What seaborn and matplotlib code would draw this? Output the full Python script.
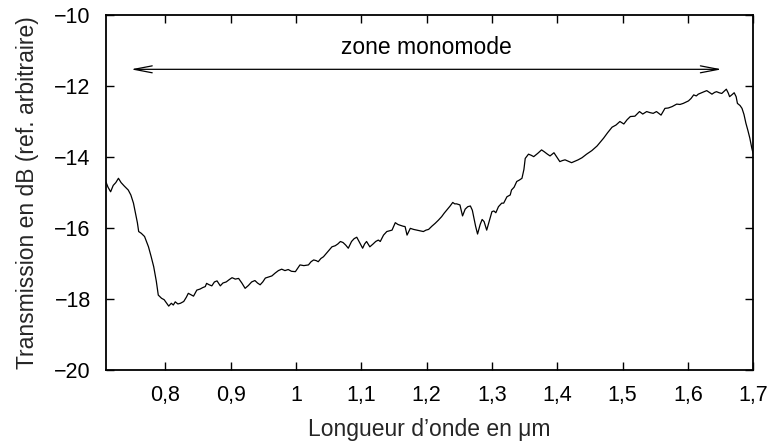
import matplotlib
matplotlib.use("Agg")
import matplotlib.pyplot as plt
import matplotlib.ticker as mticker
import numpy as np
import pandas as pd
import seaborn as sns

# Measured transmission spectrum
wavelength_um = [
    0.709, 0.712, 0.716, 0.720, 0.724, 0.728, 0.732, 0.737, 0.743, 0.747,
    0.751, 0.754, 0.757, 0.759, 0.763, 0.768, 0.774, 0.778, 0.782, 0.786,
    0.789, 0.794, 0.798, 0.802, 0.805, 0.809, 0.812, 0.815, 0.819, 0.823,
    0.828, 0.832, 0.835, 0.839, 0.843, 0.848, 0.853, 0.857, 0.861, 0.863,
    0.867, 0.871, 0.875, 0.879, 0.884, 0.888, 0.893, 0.898, 0.902, 0.907,
    0.912, 0.917, 0.922, 0.927, 0.932, 0.937, 0.941, 0.945, 0.949, 0.953,
    0.958, 0.963, 0.968, 0.973, 0.978, 0.983, 0.988, 0.993, 0.999, 1.003,
    1.006, 1.012, 1.019, 1.023, 1.027, 1.031, 1.034, 1.038, 1.042, 1.048,
    1.055, 1.060, 1.064, 1.068, 1.072, 1.076, 1.080, 1.085, 1.089, 1.093,
    1.097, 1.102, 1.105, 1.108, 1.113, 1.118, 1.122, 1.126, 1.129, 1.134,
    1.139, 1.143, 1.147, 1.152, 1.156, 1.159, 1.164, 1.167, 1.170, 1.175,
    1.180, 1.185, 1.190, 1.195, 1.199, 1.203, 1.208, 1.213, 1.218, 1.223,
    1.227, 1.231, 1.236, 1.240, 1.243, 1.246, 1.251, 1.255, 1.259, 1.263,
    1.267, 1.270, 1.272, 1.275, 1.278, 1.282, 1.285, 1.288, 1.292, 1.296,
    1.300, 1.303, 1.306, 1.310, 1.315, 1.318, 1.323, 1.328, 1.330, 1.334,
    1.338, 1.342, 1.346, 1.349, 1.351, 1.356, 1.360, 1.364, 1.370, 1.376,
    1.380, 1.385, 1.389, 1.395, 1.400, 1.404, 1.408, 1.412, 1.417, 1.422,
    1.427, 1.432, 1.438, 1.445, 1.453, 1.461, 1.466, 1.471, 1.477, 1.484,
    1.490, 1.496, 1.502, 1.507, 1.512, 1.519, 1.526, 1.531, 1.537, 1.542,
    1.547, 1.552, 1.559, 1.565, 1.570, 1.576, 1.583, 1.588, 1.593, 1.601,
    1.605, 1.609, 1.613, 1.616, 1.621, 1.625, 1.629, 1.633, 1.637, 1.641,
    1.644, 1.648, 1.652, 1.656, 1.659, 1.662, 1.664, 1.668, 1.671, 1.674,
    1.676, 1.680, 1.683, 1.686, 1.689, 1.692, 1.695, 1.698, 1.700,
]
transmission_db = [
    -14.71, -14.85, -14.98, -14.80, -14.72, -14.60, -14.72, -14.82, -14.93, -15.07,
    -15.30, -15.58, -15.85, -16.10, -16.15, -16.24, -16.53, -16.80, -17.09, -17.50,
    -17.89, -17.98, -18.02, -18.12, -18.20, -18.12, -18.17, -18.08, -18.14, -18.12,
    -18.07, -17.95, -17.84, -17.88, -17.92, -17.75, -17.72, -17.68, -17.65, -17.56,
    -17.60, -17.63, -17.52, -17.49, -17.63, -17.55, -17.52, -17.45, -17.40, -17.44,
    -17.42, -17.55, -17.70, -17.62, -17.52, -17.48, -17.55, -17.60, -17.52, -17.41,
    -17.38, -17.35, -17.27, -17.20, -17.16, -17.20, -17.17, -17.22, -17.23, -17.12,
    -17.04, -17.06, -17.04, -16.95, -16.90, -16.92, -16.95, -16.86, -16.81, -16.68,
    -16.53, -16.50, -16.45, -16.38, -16.41, -16.48, -16.57, -16.38, -16.30, -16.26,
    -16.40, -16.57, -16.45, -16.38, -16.53, -16.45, -16.38, -16.34, -16.38, -16.20,
    -16.10, -16.08, -16.06, -15.85, -15.90, -15.92, -15.95, -15.96, -16.20, -16.01,
    -16.04, -16.06, -16.08, -16.10, -16.06, -16.04, -15.95, -15.87, -15.78, -15.68,
    -15.58, -15.49, -15.38, -15.28, -15.32, -15.32, -15.35, -15.66, -15.47, -15.40,
    -15.38, -15.50, -15.68, -15.95, -16.17, -15.90, -15.76, -15.82, -16.06, -15.80,
    -15.54, -15.52, -15.57, -15.40, -15.30, -15.30, -15.12, -15.07, -14.93, -14.85,
    -14.69, -14.65, -14.60, -14.35, -14.04, -13.92, -13.95, -13.99, -13.90, -13.80,
    -13.85, -13.92, -13.97, -13.88, -14.02, -14.13, -14.10, -14.08, -14.12, -14.16,
    -14.12, -14.08, -14.02, -13.92, -13.82, -13.69, -13.58, -13.47, -13.32, -13.16,
    -13.10, -13.00, -13.07, -12.95, -12.86, -12.85, -12.72, -12.79, -12.72, -12.75,
    -12.77, -12.72, -12.82, -12.63, -12.62, -12.58, -12.51, -12.52, -12.49, -12.42,
    -12.35, -12.25, -12.28, -12.23, -12.19, -12.16, -12.13, -12.18, -12.23, -12.18,
    -12.16, -12.19, -12.21, -12.14, -12.09, -12.20, -12.30, -12.24, -12.19, -12.30,
    -12.49, -12.55, -12.63, -12.80, -13.05, -13.25, -13.47, -13.75, -13.90,
]

x_ticks = [0.8, 0.9, 1.0, 1.1, 1.2, 1.3, 1.4, 1.5, 1.6, 1.7]
y_ticks = [-20, -18, -16, -14, -12, -10]

# Single-mode band marked by a double arrow
band_start, band_end, band_level = 0.747, 1.652, -11.53
band_label = "zone monomode"

sns.set_style("ticks")
plt.rcParams["font.family"] = ["Liberation Sans", "DejaVu Sans"]
plt.rcParams["axes.unicode_minus"] = True

df = pd.DataFrame({"wavelength": wavelength_um, "transmission": transmission_db})

fig = plt.figure(figsize=(7.74, 4.44), dpi=100)
ax = fig.add_axes([0.137, 0.1667, 0.836, 0.7995])

sns.lineplot(data=df, x="wavelength", y="transmission", ax=ax,
             color="black", linewidth=0.9, sort=False)

ax.set_xlim(0.709, 1.7)
ax.set_ylim(-20, -10)
ax.set_xticks(x_ticks)
ax.set_yticks(y_ticks)

def comma_fmt(v, pos):
    return f"{v:g}".replace(".", ",")

def minus_fmt(v, pos):
    return f"\u2212{abs(v):g}" if v < 0 else f"{v:g}"

ax.xaxis.set_major_formatter(mticker.FuncFormatter(comma_fmt))
ax.yaxis.set_major_formatter(mticker.FuncFormatter(minus_fmt))

ax.tick_params(axis="both", which="major", direction="in", length=6, width=1.0,
               top=True, right=True, labelsize=15.5, color="black", labelcolor="black")
ax.tick_params(axis="x", pad=11)
ax.tick_params(axis="y", pad=11)

for side in ["left", "right", "top", "bottom"]:
    ax.spines[side].set_visible(True)
    ax.spines[side].set_linewidth(1.3)
    ax.spines[side].set_color("black")

ax.set_xlabel("Longueur d\u2019onde en \u03bcm", fontsize=16.5, labelpad=8.5)
ax.set_ylabel("Transmission en dB (ref. arbitraire)", fontsize=16.5, labelpad=11)

ax.annotate("", xy=(band_start, band_level), xytext=(band_end, band_level),
            arrowprops=dict(arrowstyle="<->,head_length=1.3,head_width=0.25",
                            color="black", lw=0.9, shrinkA=0, shrinkB=0))
ax.text((band_start + band_end) / 2, band_level + 0.62, band_label,
        ha="center", va="center", fontsize=16.5, color="black")

fig.savefig("out.png", dpi=100)
